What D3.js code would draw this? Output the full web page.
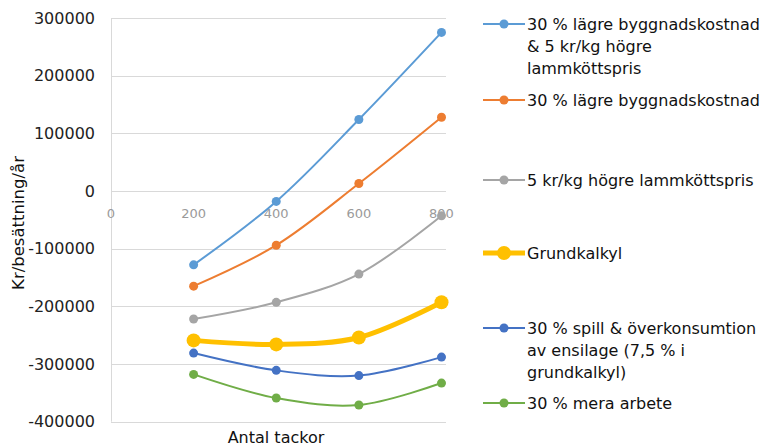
<!DOCTYPE html>
<html>
<head>
<meta charset="utf-8">
<script src="https://cdn.jsdelivr.net/npm/d3@7"></script>
<style>
  body { margin: 0; background: #fff; }
  svg { font-family: "DejaVu Sans", Verdana, sans-serif; }
  .grid line { stroke: #d9d9d9; stroke-width: 1; }
  .y-axis text { fill: #222; font-size: 16px; }
  .x-axis text { fill: #9a9a9a; font-size: 13px; }
  .axis-label { fill: #111; font-size: 16px; }
  .legend text { fill: #111; font-size: 16px; }
</style>
</head>
<body>
<div id="chart"></div>
<script>
// Antal tackor
var tackor = [200, 400, 600, 800];
var xTicks = [0, 200, 400, 600, 800];
var yTicks = [300000, 200000, 100000, 0, -100000, -200000, -300000, -400000];

// series values (kr/besättning/år)
var byggOchPris = [-128000, -18000, 124000, 275000];
var byggnad = [-165000, -94000, 13000, 128000];
var lammPris = [-222000, -193000, -144000, -43000];
var grundkalkyl = [-259000, -266000, -254000, -193000];
var spill = [-281000, -311000, -320000, -288000];
var arbete = [-318000, -359000, -371000, -333000];

var seriesNames = [
    ["30 % lägre byggnadskostnad", "& 5 kr/kg högre", "lammköttspris"],
    ["30 % lägre byggnadskostnad"],
    ["5 kr/kg högre lammköttspris"],
    ["Grundkalkyl"],
    ["30 % spill & överkonsumtion", "av ensilage (7,5 % i", "grundkalkyl)"],
    ["30 % mera arbete"]
];
var seriesValues = [byggOchPris, byggnad, lammPris, grundkalkyl, spill, arbete];
var colors = ["#5b9bd5", "#ed7d31", "#a5a5a5", "#ffc000", "#4472c4", "#70ad47"];
var widths = [2, 2, 2, 5, 2, 2];
var radius = [4.5, 4.5, 4.5, 7, 4.5, 4.5];
var legendY = [24, 100, 180, 253, 328, 403];

var width = 764, height = 447;

var svg = d3.select("#chart").append("svg")
    .attr("width", width)
    .attr("height", height);

var x = d3.scaleLinear().domain([0, 800]).range([111, 441.5]);
var y = d3.scaleLinear().domain([-400000, 300000]).range([421.7, 18]);

// gridlines
svg.append("g")
    .attr("class", "grid")
    .selectAll("line")
    .data(yTicks)
    .enter().append("line")
    .attr("x1", x(0))
    .attr("x2", 446)
    .attr("y1", function(d) { return Math.round(y(d)) + 0.5; })
    .attr("y2", function(d) { return Math.round(y(d)) + 0.5; });

// vertical axis line
svg.append("line")
    .attr("x1", x(0) + 0.5).attr("x2", x(0) + 0.5)
    .attr("y1", y(300000)).attr("y2", y(-400000))
    .attr("stroke", "#d9d9d9");

// y tick labels
svg.append("g")
    .attr("class", "y-axis")
    .selectAll("text")
    .data(yTicks)
    .enter().append("text")
    .attr("x", 95)
    .attr("y", function(d) { return y(d); })
    .attr("dy", "0.35em")
    .attr("text-anchor", "end")
    .text(function(d) { return d; });

// x tick labels (sit on the zero line)
svg.append("g")
    .attr("class", "x-axis")
    .selectAll("text")
    .data(xTicks)
    .enter().append("text")
    .attr("x", function(d) { return x(d); })
    .attr("y", y(0) + 27)
    .attr("text-anchor", "middle")
    .text(function(d) { return d; });

// axis titles
svg.append("rect")
    .attr("x", 227).attr("y", 424).attr("width", 110).attr("height", 23)
    .attr("fill", "#fff");
svg.append("text")
    .attr("class", "axis-label")
    .attr("x", 276)
    .attr("y", 443)
    .attr("text-anchor", "middle")
    .text("Antal tackor");

svg.append("text")
    .attr("class", "axis-label")
    .attr("transform", "translate(24,223) rotate(-90)")
    .attr("text-anchor", "middle")
    .style("font-size", "16.5px")
    .text("Kr/besättning/år");

// lines
var line = d3.line()
    .x(function(d, i) { return x(tackor[i]); })
    .y(function(d) { return y(d); })
    .curve(d3.curveCatmullRom.alpha(0.5));

var series = svg.append("g")
    .selectAll("g")
    .data(seriesValues)
    .enter().append("g");

series.append("path")
    .attr("fill", "none")
    .attr("stroke", function(d, i) { return colors[i]; })
    .attr("stroke-width", function(d, i) { return widths[i]; })
    .attr("d", line);

series.each(function(vals, i) {
    d3.select(this).selectAll("circle")
        .data(vals)
        .enter().append("circle")
        .attr("cx", function(d, j) { return x(tackor[j]); })
        .attr("cy", function(d) { return y(d); })
        .attr("r", radius[i])
        .attr("fill", colors[i]);
});

// legend
var legend = svg.append("g")
    .attr("class", "legend")
    .selectAll("g")
    .data(seriesNames)
    .enter().append("g")
    .attr("transform", function(d, i) { return "translate(0," + legendY[i] + ")"; });

legend.append("line")
    .attr("x1", 483).attr("x2", 525)
    .attr("y1", 0).attr("y2", 0)
    .attr("stroke", function(d, i) { return colors[i]; })
    .attr("stroke-width", function(d, i) { return widths[i]; });

legend.append("circle")
    .attr("cx", 504).attr("cy", 0)
    .attr("r", function(d, i) { return radius[i]; })
    .attr("fill", function(d, i) { return colors[i]; });

legend.append("text")
    .attr("x", 527)
    .attr("y", 0)
    .selectAll("tspan")
    .data(function(d) { return d; })
    .enter().append("tspan")
    .attr("x", 527)
    .attr("dy", function(d, j) { return j === 0 ? "0.35em" : "22px"; })
    .text(function(d) { return d; });
</script>
</body>
</html>
